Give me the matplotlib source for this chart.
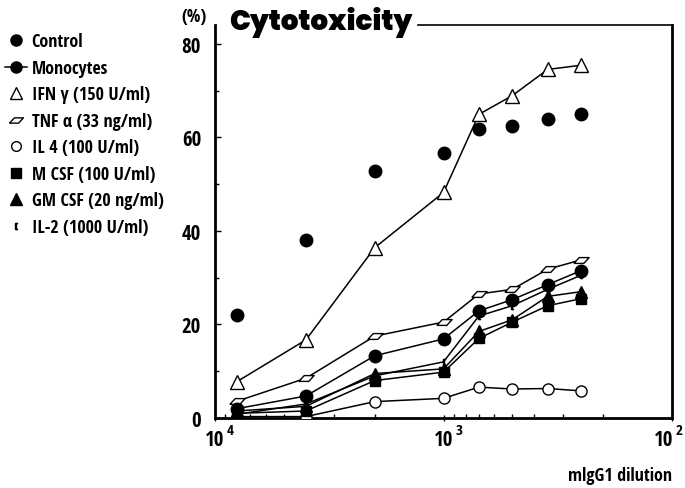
import matplotlib
matplotlib.use("Agg")
import matplotlib.pyplot as plt
from matplotlib.lines import Line2D
from matplotlib.ticker import FixedLocator, NullFormatter
import matplotlib.transforms as mtrans
from matplotlib import font_manager

# ---- data ----
dilution = [8000, 4000, 2000, 1000, 700, 500, 350, 250]
control = [22.0, 38.1, 52.7, 56.7, 61.7, 62.5, 64.0, 64.9]
monocytes = [2.0, 4.7, 13.3, 16.9, 22.9, 25.3, 28.5, 31.5]
ifn = [7.8, 16.7, 36.4, 48.2, 64.9, 68.9, 74.5, 75.4]
tnf = [3.6, 8.5, 17.5, 20.5, 26.5, 27.5, 31.8, 33.8]
il4 = [0.3, 0.3, 3.5, 4.2, 6.6, 6.2, 6.3, 5.8]
mcsf = [1.0, 1.5, 8.0, 9.8, 17.0, 20.5, 24.0, 25.5]
gmcsf = [1.5, 2.5, 9.5, 10.5, 18.5, 21.0, 26.0, 27.0]
il2 = [0.8, 3.0, 9.0, 12.0, 21.8, 24.0, 27.5, 30.5]

labels = ["Control", "Monocytes", "IFN \u03b3 (150 U/ml)", "TNF \u03b1 (33 ng/ml)",
          "IL 4 (100 U/ml)", "M CSF (100 U/ml)", "GM CSF (20 ng/ml)", "IL-2 (1000 U/ml)"]

names = {f.name for f in font_manager.fontManager.ttflist}
heavy = {f.name for f in font_manager.fontManager.ttflist
         if isinstance(f.weight, int) and f.weight >= 800 and f.style == "normal"}

def pick(cands, pool):
    return [c for c in cands if c in pool] + ["DejaVu Sans"]

FAM = pick(["Open Sans Condensed", "IBM Plex Sans Condensed"], names)
TFAM = pick(["Montserrat", "Poppins", "League Spartan", "Nunito", "Lato"], heavy)
FONT = dict(family=FAM, fontweight="bold")

fig = plt.figure(figsize=(6.85, 4.89), dpi=100)
ax = fig.add_axes([215/685, 1-419/489, (672-215)/685, (419-26)/489])

para = [(-1, -0.38), (0.3, -0.38), (1, 0.38), (-0.3, 0.38), (-1, -0.38)]

lw = 1.1
ax.plot(dilution, control, ls="none", marker="o", ms=9, color="black", zorder=5)
ax.plot(dilution, il2, color="black", lw=lw, marker="$[$", ms=5, zorder=3)
ax.plot(dilution, tnf, color="black", lw=lw, marker=para, ms=11, mfc="white", mec="black", mew=1, zorder=3)
ax.plot(dilution, il4, color="black", lw=lw, marker="o", ms=8, mfc="white", mec="black", mew=1, zorder=4)
ax.plot(dilution, mcsf, color="black", lw=lw, marker="s", ms=7.5, zorder=4)
ax.plot(dilution, gmcsf, color="black", lw=lw, marker="^", ms=8.5, zorder=4)
ax.plot(dilution, monocytes, color="black", lw=lw, marker="o", ms=9, zorder=4)
ax.plot(dilution, ifn, color="black", lw=lw, marker="^", ms=10, mfc="white", mec="black", mew=1, zorder=4)

ax.set_xscale("log")
ax.set_xlim(1e4, 1e2)
ax.set_ylim(0, 84)

for s in ["left", "bottom", "right"]:
    ax.spines[s].set_linewidth(2)
ax.spines["top"].set_visible(False)
ax.plot([0.444, 1.0], [1, 1], transform=ax.transAxes, color="black", lw=1.2, clip_on=False)

ax.set_yticks([0, 20, 40, 60, 80])
ax.set_yticklabels(["0", "20", "40", "60", "80"], fontsize=15, **FONT)
ax.yaxis.set_minor_locator(FixedLocator([10, 30, 50, 70]))
ax.tick_params(axis="y", which="major", length=4, width=1, direction="in", pad=10)
ax.tick_params(axis="y", which="minor", length=3, width=1, direction="in")

ax.set_xticks([1e4, 1e3, 1e2])
ax.set_xticklabels(["", "", ""])
minors = [m * 10**e for e in (2, 3) for m in range(2, 10)]
ax.xaxis.set_minor_locator(FixedLocator(minors))
ax.xaxis.set_minor_formatter(NullFormatter())
ax.tick_params(axis="x", which="major", length=5, width=1, direction="inout")
ax.tick_params(axis="x", which="minor", length=3, width=1, direction="in")

tr = mtrans.blended_transform_factory(ax.transData, ax.transAxes)
for v, e, dx in [(1e4, "4", 0), (1e3, "3", 0), (1e2, "2", -6)]:
    ax.annotate("10", xy=(v, -0.055), xycoords=tr, xytext=(dx, 0), textcoords="offset points",
                ha="center", va="center", fontsize=15, **FONT)
    ax.annotate(e, xy=(v, -0.055), xycoords=tr, xytext=(dx + 11, 7), textcoords="offset points",
                ha="center", va="center", fontsize=11, **FONT)

fig.text(672/685, 1-476/489, "mlgG1 dilution", ha="right", va="center", fontsize=13, **FONT)
fig.text(194/685, 1-17/489, "(%)", ha="center", va="center", fontsize=13, **FONT)
fig.text(229/685, 1-22/489, "Cytotoxicity", ha="left", va="center", fontsize=20,
         family=TFAM, fontweight="black")

handles = [
    Line2D([], [], ls="none", marker="o", ms=8, color="black"),
    Line2D([], [], ls="-", lw=1.1, marker="o", ms=8, color="black"),
    Line2D([], [], ls="none", marker="^", ms=9, mfc="white", mec="black"),
    Line2D([], [], ls="none", marker=para, ms=10, mfc="white", mec="black"),
    Line2D([], [], ls="none", marker="o", ms=7, mfc="white", mec="black"),
    Line2D([], [], ls="none", marker="s", ms=7, color="black"),
    Line2D([], [], ls="none", marker="^", ms=8.5, color="black"),
    Line2D([], [], ls="none", marker="$[$", ms=5, color="black"),
]
leg = fig.legend(handles, labels, loc="upper left", bbox_to_anchor=(0.0, 1 - 28/489),
                 frameon=False, handlelength=1.2, handletextpad=0.25, labelspacing=0.47,
                 borderaxespad=0.0, borderpad=0.3,
                 prop=dict(family=FAM, weight="bold", size=13))

fig.savefig("out.png", dpi=100)
